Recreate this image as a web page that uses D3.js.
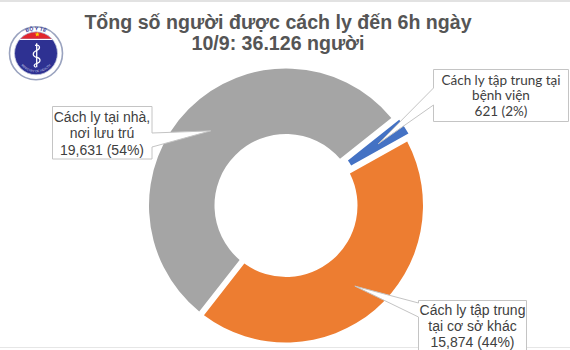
<!DOCTYPE html>
<html><head><meta charset="utf-8">
<script src="https://cdn.jsdelivr.net/npm/d3@7"></script>
<style>html,body{margin:0;padding:0;background:#fff;overflow:hidden}</style>
</head><body>
<svg id="chart" width="570" height="350"></svg>
<script>
// ---- data ----
const categories = ["Cách ly tập trung tại bệnh viện", "Cách ly tập trung tại cơ sở khác", "Cách ly tại nhà, nơi lưu trú"];
const values = [621, 15874, 19631];
const labelLines = [["Cách ly tập trung tại", "bệnh viện"], ["Cách ly tập trung", "tại cơ sở khác"], ["Cách ly tại nhà,", "nơi lưu trú"]];
const colors = ["#4472C4", "#ED7D31", "#A5A5A5"];
const titleLines = ["Tổng số người được cách ly đến 6h ngày", "10/9: 36.126 người"];

// ---- layout ----
const W = 570, H = 350;
const cx = 286, cy = 205.5, rOut = 137, rIn = 71.5;
const startDeg = 51.5;
const explode = [5, 0, 0];
// callout boxes: x,y,w,h, pointer side and base on that side
const boxes = [
  {x: 433.5, y: 69.5, w: 135, h: 52, side: "left", b0: 88, b1: 105, font: "Lato, 'Open Sans', sans-serif", size: 13.5, lh: 15.5, ty: 80, tx: 501},
  {x: 418.5, y: 300.5, w: 108, h: 60, side: "left", b0: 303, b1: 317, font: "'Liberation Sans', Arial, sans-serif", size: 14, lh: 16, ty: 310, tx: 472.5},
  {x: 52.5, y: 106.5, w: 99.5, h: 52.5, side: "right", b0: 133, b1: 147, font: "'Liberation Sans', Arial, sans-serif", size: 14, lh: 16.7, ty: 116.7, tx: 102}
];

const svg = d3.select("#chart");
const total = d3.sum(values);

// frame lines
svg.append("line").attr("x1", 0).attr("x2", W).attr("y1", 1).attr("y2", 1).attr("stroke", "#e2e2e2").attr("stroke-width", 2);
svg.append("line").attr("x1", 0).attr("x2", W).attr("y1", 347.5).attr("y2", 347.5).attr("stroke", "#e6e6e6").attr("stroke-width", 1);

// title
svg.append("g").selectAll("text").data(titleLines).join("text")
  .attr("x", 278).attr("y", (d, i) => 29 + i * 21)
  .attr("text-anchor", "middle")
  .attr("font-family", "'Liberation Sans', Arial, sans-serif")
  .attr("font-weight", "bold").attr("font-size", 19.6)
  .attr("fill", "#555555")
  .text(d => d);

// pie
const pie = d3.pie().sort(null).value(d => d)
  .startAngle(startDeg * Math.PI / 180)
  .endAngle(startDeg * Math.PI / 180 + 2 * Math.PI)
  .padAngle(0.06);
const arcs = pie(values);
const arc = d3.arc().innerRadius(rIn).outerRadius(rOut).padRadius(100);
const tipArc = d3.arc().innerRadius(106).outerRadius(106);

const g = svg.append("g").attr("transform", `translate(${cx},${cy})`);
function offs(d, i) {
  const a = (d.startAngle + d.endAngle) / 2;
  return [Math.sin(a) * explode[i], -Math.cos(a) * explode[i]];
}
g.selectAll("path").data(arcs).join("path")
  .attr("d", arc)
  .attr("fill", (d, i) => colors[i])
  .attr("transform", (d, i) => { const o = offs(d, i); return `translate(${o[0]},${o[1]})`; });

// callouts
const cg = svg.append("g");
arcs.forEach((d, i) => {
  const b = boxes[i];
  const c = tipArc.centroid(d);
  const o = offs(d, i);
  const tx = cx + c[0] + o[0], ty = cy + c[1] + o[1];
  let p;
  if (b.side === "left") {
    p = `M${b.x},${b.y}H${b.x + b.w}V${b.y + b.h}H${b.x}V${b.b1}L${tx},${ty}L${b.x},${b.b0}Z`;
  } else {
    p = `M${b.x},${b.y}H${b.x + b.w}V${b.b0}L${tx},${ty}L${b.x + b.w},${b.b1}V${b.y + b.h}H${b.x}Z`;
  }
  cg.append("path").attr("d", p).attr("fill", "#fff").attr("stroke", "#c4c4c4").attr("stroke-width", 1);
  const lines = labelLines[i].concat([d3.format(",")(values[i]) + " (" + d3.format(".0%")(values[i] / total) + ")"]);
  cg.append("g").selectAll("text").data(lines).join("text")
    .attr("x", b.tx).attr("y", (t, j) => b.ty + j * b.lh)
    .attr("dy", "0.35em")
    .attr("text-anchor", "middle")
    .attr("font-family", b.font).attr("font-size", b.size)
    .attr("fill", "#404040")
    .text(t => t);
});

// logo (Bộ Y tế emblem, decorative)
const lg = svg.append("g").attr("transform", "translate(36,53.3)");
lg.append("circle").attr("r", 26.5).attr("fill", "#fff").attr("stroke", "#9aa3bf").attr("stroke-width", 1.6);
const defs = svg.append("defs");
defs.append("clipPath").attr("id", "inner").append("circle").attr("r", 21.5);
const inner = lg.append("g").attr("clip-path", "url(#inner)");
inner.append("rect").attr("x", -22).attr("y", -22).attr("width", 44).attr("height", 44).attr("fill", "#2e3192");
inner.append("rect").attr("x", -22).attr("y", -22).attr("width", 44).attr("height", 7.5).attr("fill", "#e1262d");
inner.append("rect").attr("x", -22).attr("y", -14.5).attr("width", 44).attr("height", 1.2).attr("fill", "#fff");
lg.append("circle").attr("r", 21.5).attr("fill", "none").attr("stroke", "#c7cbe0").attr("stroke-width", 0.8);
// star
const star = d3.range(10).map(k => { const rr = k % 2 ? 1.1 : 2.6; const a = k * Math.PI / 5; return [1.3 + rr * Math.sin(a), -18.8 - rr * Math.cos(a)]; });
lg.append("path").attr("d", d3.line()(star) + "Z").attr("fill", "#ffd200");
// caduceus
lg.append("line").attr("x1", 0.7).attr("x2", 0.7).attr("y1", -10).attr("y2", 14).attr("stroke", "#fff").attr("stroke-width", 1.3);
lg.append("path").attr("d", "M-1,-8 C4,-9 5,-5 1,-3 C-4,-1 -4,3 1,4 C5,5 5,9 1,10 C-2,11 -3,13 0,14")
  .attr("fill", "none").attr("stroke", "#fff").attr("stroke-width", 1.2);
// arc texts
defs.append("path").attr("id", "topArc").attr("d", "M-20,0 A20,20 0 0 1 20,0").attr("transform", "");
defs.append("path").attr("id", "botArc").attr("d", "M-18,0 A18,18 0 0 0 18,0");
lg.append("text").attr("font-family", "'Liberation Sans', Arial, sans-serif").attr("font-size", 5).attr("font-weight", "bold").attr("fill", "#2e3192")
  .append("textPath").attr("href", "#topArcOuter");
defs.append("path").attr("id", "topArcOuter").attr("d", "M-23,0 A23,23 0 0 1 23,0");
lg.select("textPath").attr("startOffset", "50%").attr("text-anchor", "middle").text("BỘ Y TẾ");
lg.append("text").attr("font-family", "'Liberation Sans', Arial, sans-serif").attr("font-size", 3.2).attr("fill", "#c9cde6")
  .append("textPath").attr("href", "#botArc2").attr("startOffset", "50%").attr("text-anchor", "middle").text("MINISTRY OF HEALTH");
defs.append("path").attr("id", "botArc2").attr("d", "M-19,0 A19,19 0 0 0 19,0");
</script>
</body></html>
